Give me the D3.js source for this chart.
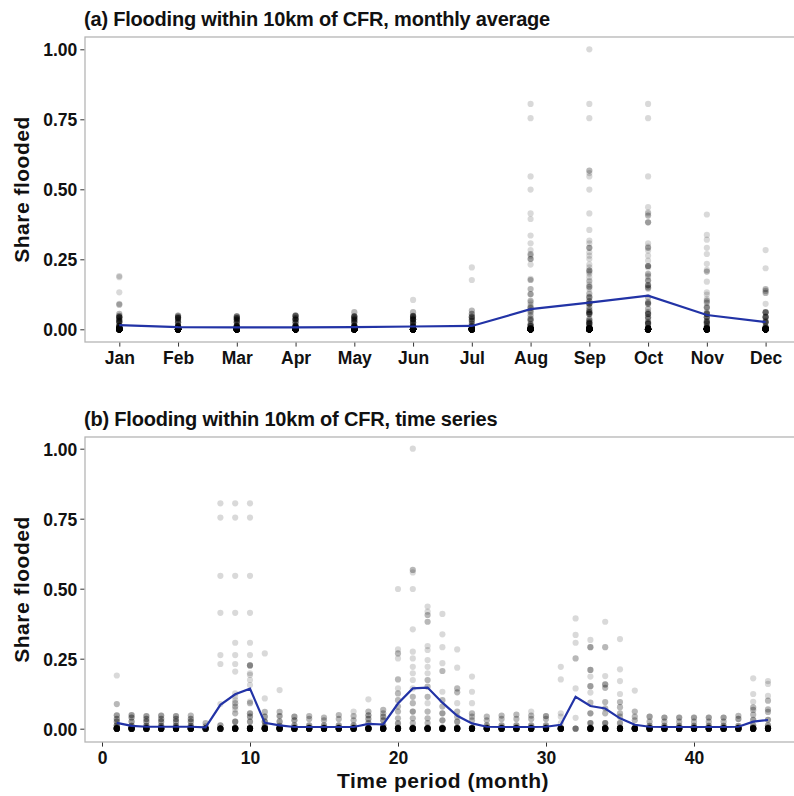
<!DOCTYPE html>
<html>
<head>
<meta charset="utf-8">
<script src="https://cdn.jsdelivr.net/npm/d3@7"></script>
<style>
  body { margin: 0; background: #fff; }
  svg { font-family: "Liberation Sans", Arial, sans-serif; }
  .tick-label { font-size: 17.5px; font-weight: bold; fill: #111; }
  .title { font-size: 20px; font-weight: bold; fill: #111; letter-spacing: -0.2px; }
  .axis-title { font-size: 21px; font-weight: bold; fill: #111; letter-spacing: 0.5px; }
</style>
</head>
<body>
<svg id="chart"></svg>
<script>
const months = ["Jan","Feb","Mar","Apr","May","Jun","Jul","Aug","Sep","Oct","Nov","Dec"];
const monthMeans = [0.015,0.008,0.007,0.007,0.008,0.01,0.012,0.072,0.095,0.12,0.051,0.026];

const periods = d3.range(1, 46);
const periodMeans = [0.021,0.01,0.007,0.007,0.007,0.007,0.005,0.085,0.123,0.143,
  0.021,0.012,0.006,0.006,0.006,0.006,0.006,0.017,0.015,0.09,
  0.144,0.147,0.093,0.046,0.019,0.007,0.006,0.006,0.006,0.007,
  0.014,0.114,0.081,0.072,0.037,0.014,0.007,0.006,0.006,0.006,
  0.006,0.006,0.007,0.025,0.031];

// observed shares per period, as [value, how many observations]
const periodPoints = [
  [[0.19,1],[0.088,2],[0.048,3],[0.035,3],[0.025,3],[0.012,4],[0.004,4],[0,25]],
  [[0.049,3],[0.04,3],[0.025,3],[0.01,4],[0.004,4],[0,25]],
  [[0.045,3],[0.035,3],[0.025,3],[0.01,4],[0.004,4],[0,25]],
  [[0.047,3],[0.035,3],[0.025,3],[0.01,4],[0.004,4],[0,25]],
  [[0.045,3],[0.035,3],[0.025,3],[0.01,4],[0.004,4],[0,25]],
  [[0.047,2],[0.035,3],[0.025,3],[0.01,4],[0.004,4],[0,25]],
  [[0.02,2],[0.008,2],[0,20]],
  [[0.805,1],[0.754,1],[0.546,1],[0.414,1],[0.263,1],[0.231,1],[0.088,1],[0.012,3],[0,20]],
  [[0.805,1],[0.754,1],[0.546,1],[0.414,1],[0.307,1],[0.263,1],[0.231,1],[0.204,1],[0.126,1],[0.114,1],[0.102,1],[0.091,2],[0.079,2],[0.069,1],[0.055,2],[0.025,4],[0.004,4],[0,25]],
  [[0.805,1],[0.754,1],[0.546,1],[0.414,1],[0.307,1],[0.263,1],[0.226,4],[0.198,1],[0.192,1],[0.174,1],[0.156,1],[0.097,1],[0.091,2],[0.055,3],[0.043,3],[0.025,3],[0.004,4],[0,25]],
  [[0.269,1],[0.108,1],[0.06,2],[0.043,3],[0.025,4],[0.01,3],[0.004,4],[0,25]],
  [[0.138,1],[0.06,2],[0.045,3],[0.025,3],[0.01,3],[0.004,4],[0,25]],
  [[0.043,3],[0.03,3],[0.012,3],[0.004,4],[0,25]],
  [[0.045,2],[0.035,2],[0.012,3],[0.004,4],[0,25]],
  [[0.04,2],[0.03,2],[0.012,3],[0.004,4],[0,25]],
  [[0.049,2],[0.035,2],[0.012,3],[0.004,4],[0,25]],
  [[0.061,1],[0.045,2],[0.03,2],[0.012,3],[0.004,4],[0,25]],
  [[0.105,1],[0.061,2],[0.048,3],[0.035,3],[0.02,3],[0.004,4],[0,25]],
  [[0.067,2],[0.055,2],[0.043,3],[0.03,3],[0.012,3],[0.004,4],[0,25]],
  [[0.499,1],[0.283,1],[0.269,2],[0.251,1],[0.176,2],[0.144,1],[0.126,2],[0.102,2],[0.079,2],[0.061,2],[0.037,2],[0.019,3],[0.004,4],[0,25]],
  [[1.0,1],[0.567,2],[0.558,1],[0.499,1],[0.355,1],[0.275,1],[0.251,1],[0.221,1],[0.198,1],[0.174,1],[0.144,1],[0.114,2],[0.091,2],[0.061,3],[0.037,2],[0.02,2],[0.004,4],[0,25]],
  [[0.436,1],[0.418,1],[0.406,2],[0.382,2],[0.295,1],[0.281,1],[0.245,1],[0.221,1],[0.198,1],[0.174,2],[0.15,2],[0.114,2],[0.091,1],[0.061,2],[0.037,2],[0.02,2],[0.004,4],[0,25]],
  [[0.41,1],[0.337,1],[0.291,1],[0.234,1],[0.206,2],[0.132,1],[0.102,2],[0.079,2],[0.055,3],[0.03,3],[0.004,4],[0,25]],
  [[0.283,1],[0.218,1],[0.144,2],[0.13,2],[0.091,1],[0.061,2],[0.043,2],[0.025,3],[0.004,4],[0,25]],
  [[0.186,1],[0.132,1],[0.091,1],[0.055,2],[0.043,2],[0.03,2],[0.004,4],[0,25]],
  [[0.043,2],[0.03,2],[0.012,3],[0.004,4],[0,25]],
  [[0.047,2],[0.035,2],[0.012,3],[0.004,4],[0,25]],
  [[0.05,2],[0.035,2],[0.012,3],[0.004,4],[0,25]],
  [[0.061,1],[0.047,2],[0.035,2],[0.012,3],[0.004,4],[0,25]],
  [[0.045,3],[0.035,2],[0.012,3],[0.004,4],[0,25]],
  [[0.221,1],[0.176,1],[0.055,1],[0.043,1],[0.02,1],[0.004,2],[0,25]],
  [[0.394,1],[0.335,1],[0.307,1],[0.251,2],[0.144,1],[0.039,1],[0,5]],
  [[0.317,1],[0.291,3],[0.21,3],[0.186,1],[0.152,3],[0.129,1],[0.093,2],[0.055,3],[0.02,4],[0.004,4],[0,25]],
  [[0.382,1],[0.291,2],[0.188,1],[0.158,3],[0.146,2],[0.095,2],[0.073,2],[0.055,2],[0.02,4],[0.004,4],[0,25]],
  [[0.32,1],[0.212,1],[0.17,1],[0.124,1],[0.095,2],[0.077,2],[0.055,2],[0.043,2],[0.02,3],[0.004,4],[0,25]],
  [[0.136,1],[0.061,2],[0.043,2],[0.03,2],[0.004,4],[0,25]],
  [[0.043,3],[0.025,2],[0.01,3],[0.004,4],[0,25]],
  [[0.04,3],[0.025,2],[0.01,3],[0.004,4],[0,25]],
  [[0.04,3],[0.025,2],[0.01,3],[0.004,4],[0,25]],
  [[0.04,3],[0.025,2],[0.01,3],[0.004,4],[0,25]],
  [[0.04,3],[0.025,2],[0.01,3],[0.004,4],[0,25]],
  [[0.04,3],[0.025,2],[0.01,3],[0.004,4],[0,25]],
  [[0.046,2],[0.035,3],[0.01,3],[0.004,4],[0,25]],
  [[0.18,1],[0.124,1],[0.096,1],[0.076,2],[0.067,2],[0.05,2],[0.032,3],[0.012,3],[0.004,4],[0,25]],
  [[0.17,1],[0.16,1],[0.117,1],[0.1,2],[0.069,2],[0.06,2],[0.032,3],[0.012,3],[0.004,4],[0,25]]
];

const yTicks = [0, 0.25, 0.5, 0.75, 1];
const xTicksB = [0, 10, 20, 30, 40];

const width = 794, height = 796;
const lineColor = "#2233a6";
const borderColor = "#b5b5b5";
const plotLeft = 85, plotRight = 801;

const svg = d3.select("#chart")
    .attr("width", width)
    .attr("height", height)
    .attr("viewBox", [0, 0, width, height]);

// expand [value, n] pairs into one row per observation
const obs = [];
periodPoints.forEach((pts, i) => {
    pts.forEach(([v, n]) => {
        for (let k = 0; k < n; k++) obs.push({period: periods[i], month: months[i % 12], value: v});
    });
});

function styleTicks(axisG, dy) {
    axisG.select(".domain").remove();
    axisG.selectAll("line").attr("stroke", "#333");
    axisG.selectAll("text")
        .attr("class", "tick-label")
        .attr("font-family", null)
        .attr("font-size", null)
        .attr("dy", dy);
}

function drawPanel(g, opts) {
    const {top, bottom, y0, y1, title, titleY} = opts;
    const y = d3.scaleLinear([0, 1], [y0, y1]);

    g.append("text")
        .attr("class", "title")
        .attr("x", plotLeft - 1)
        .attr("y", titleY)
        .text(title);

    g.append("rect")
        .attr("x", plotLeft).attr("y", top)
        .attr("width", plotRight - plotLeft).attr("height", bottom - top)
        .attr("fill", "none")
        .attr("stroke", borderColor)
        .attr("stroke-width", 1.3);

    const yAxis = g.append("g")
        .attr("transform", `translate(${plotLeft - 0.7},0)`)
        .call(d3.axisLeft(y).tickValues(yTicks).tickFormat(d3.format(".2f")).tickSize(4).tickPadding(3));
    styleTicks(yAxis, "0.36em");

    g.append("text")
        .attr("class", "axis-title")
        .attr("transform", `translate(29,${(top + bottom) / 2}) rotate(-90)`)
        .attr("text-anchor", "middle")
        .text("Share flooded");

    return y;
}

// ---- panel (a): by calendar month
const gA = svg.append("g");
const yA = drawPanel(gA, {top: 37, bottom: 342, y0: 329.3, y1: 49.3,
    title: "(a) Flooding within 10km of CFR, monthly average", titleY: 26});
const xA = d3.scalePoint(months, [119.3, 765.6]);

const xAxisA = gA.append("g")
    .attr("transform", "translate(0,342.6)")
    .call(d3.axisBottom(xA).tickSize(4).tickPadding(2));
styleTicks(xAxisA, "0.9em");

gA.append("g")
    .selectAll("circle")
    .data(obs)
    .join("circle")
    .attr("cx", d => xA(d.month))
    .attr("cy", d => yA(d.value))
    .attr("r", 3.1)
    .attr("fill", "#000")
    .attr("fill-opacity", 0.15);

gA.append("path")
    .datum(months.map((m, i) => ({m, v: monthMeans[i]})))
    .attr("fill", "none")
    .attr("stroke", lineColor)
    .attr("stroke-width", 2.2)
    .attr("d", d3.line().x(d => xA(d.m)).y(d => yA(d.v)));

// ---- panel (b): time series
const gB = svg.append("g");
const yB = drawPanel(gB, {top: 437, bottom: 742, y0: 728.7, y1: 448.7,
    title: "(b) Flooding within 10km of CFR, time series", titleY: 426});
const xB = d3.scaleLinear([0, 40], [102, 694]);

const xAxisB = gB.append("g")
    .attr("transform", "translate(0,742.6)")
    .call(d3.axisBottom(xB).tickValues(xTicksB).tickFormat(d3.format("d")).tickSize(4).tickPadding(2));
styleTicks(xAxisB, "0.9em");

gB.append("text")
    .attr("class", "axis-title")
    .attr("x", (plotLeft + plotRight) / 2)
    .attr("y", 788)
    .attr("text-anchor", "middle")
    .text("Time period (month)");

gB.append("g")
    .selectAll("circle")
    .data(obs)
    .join("circle")
    .attr("cx", d => xB(d.period))
    .attr("cy", d => yB(d.value))
    .attr("r", 3.1)
    .attr("fill", "#000")
    .attr("fill-opacity", 0.15);

gB.append("path")
    .datum(periods.map((p, i) => ({p, v: periodMeans[i]})))
    .attr("fill", "none")
    .attr("stroke", lineColor)
    .attr("stroke-width", 2.2)
    .attr("d", d3.line().x(d => xB(d.p)).y(d => yB(d.v)));
</script>
</body>
</html>
